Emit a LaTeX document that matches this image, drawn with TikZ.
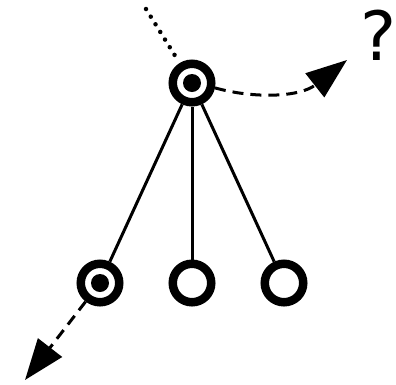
\documentclass[tikz,border=0pt]{standalone}
\usepackage{fontspec}
\setmainfont{DejaVu Sans}
\usetikzlibrary{arrows.meta}
\begin{document}
\begin{tikzpicture}[x=1pt,y=-1pt,
  ring/.style={circle,draw=black,line width=8.5pt,minimum size=38.5pt,inner sep=0pt},
  target/.style={ring,path picture={\fill[black] (path picture bounding box.center) circle (9pt);}},
  link/.style={line width=3pt},
  dashlink/.style={line width=3pt,dash pattern=on 11pt off 7pt,-{Triangle[length=41pt,width=30pt]}},
  dotlink/.style={line width=4.5pt,line cap=round,dash pattern=on 0pt off 9pt}]
\useasboundingbox (0,0) rectangle (396,384);
\node[target] (top) at (192,83) {};
\node[target] (l) at (100,283) {};
\node[ring] (m) at (192,283) {};
\node[ring] (r) at (284,283) {};
\coordinate (dstart) at (146,9);
\coordinate (qtip) at (347,60);
\coordinate (btip) at (25,380);
\node[anchor=base,font=\fontsize{68}{68}\selectfont,inner sep=0pt] (q) at (379,60) {?};
\draw[link] (top) -- (l);
\draw[link] (top) -- (m);
\draw[link] (top) -- (r);
\draw[dotlink,shorten >=5pt] (dstart) -- (top);
\draw[dashlink] (top.-12) .. controls (255,99) and (300,97) .. (qtip);
\draw[dashlink] (l) -- (btip);
\end{tikzpicture}
\end{document}
